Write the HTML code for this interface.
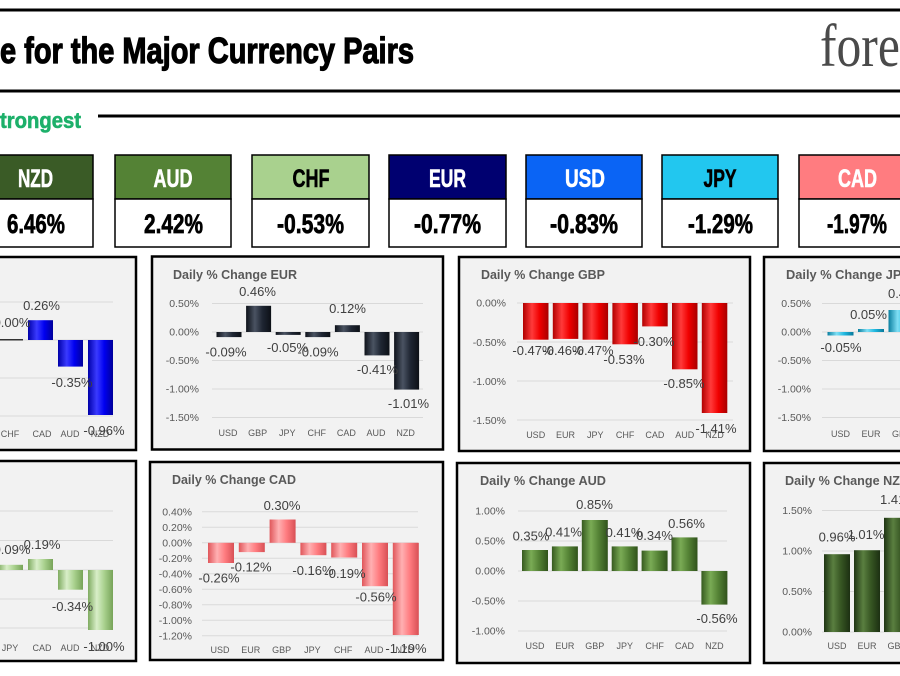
<!DOCTYPE html>
<html><head><meta charset="utf-8"><style>
html,body{margin:0;padding:0;background:#fff;width:900px;height:676px;overflow:hidden}
svg{display:block}
.t{font-family:"Liberation Sans",sans-serif;font-weight:bold;font-size:12.5px;fill:#595959}
.y{font-family:"Liberation Sans",sans-serif;font-size:10.5px;fill:#595959;text-anchor:end}
.c{font-family:"Liberation Sans",sans-serif;font-size:9px;fill:#595959;text-anchor:middle}
.d{font-family:"Liberation Sans",sans-serif;font-size:13px;fill:#404040;text-anchor:middle}
.g{stroke:#d9d9d9;stroke-width:1}
.p{fill:#f2f2f2;stroke:#000;stroke-width:2.5}
.hx{font-family:"Liberation Sans Narrow","Liberation Sans",sans-serif;font-weight:bold;font-size:25px;text-anchor:middle}
.px{font-family:"Liberation Sans Narrow","Liberation Sans",sans-serif;font-weight:bold;font-size:27px;text-anchor:middle;fill:#000;stroke:#000;stroke-width:0.7}
</style></head><body>
<svg width="900" height="676" viewBox="0 0 900 676" xmlns="http://www.w3.org/2000/svg">
<defs>
<linearGradient id="gBlue" x1="0" x2="1" y1="0" y2="0"><stop offset="0" stop-color="#0000a8"/><stop offset="0.35" stop-color="#3a3aff"/><stop offset="0.65" stop-color="#0000f0"/><stop offset="1" stop-color="#00009a"/></linearGradient>
<linearGradient id="gDark" x1="0" x2="1" y1="0" y2="0"><stop offset="0" stop-color="#0e121a"/><stop offset="0.35" stop-color="#4a5362"/><stop offset="0.65" stop-color="#1f2633"/><stop offset="1" stop-color="#0c1016"/></linearGradient>
<linearGradient id="gRed" x1="0" x2="1" y1="0" y2="0"><stop offset="0" stop-color="#b00000"/><stop offset="0.35" stop-color="#ff3a3a"/><stop offset="0.65" stop-color="#f00000"/><stop offset="1" stop-color="#a80000"/></linearGradient>
<linearGradient id="gCyan" x1="0" x2="1" y1="0" y2="0"><stop offset="0" stop-color="#0a7fa0"/><stop offset="0.35" stop-color="#7fdff5"/><stop offset="0.65" stop-color="#1fb8e0"/><stop offset="1" stop-color="#08789a"/></linearGradient>
<linearGradient id="gLg" x1="0" x2="1" y1="0" y2="0"><stop offset="0" stop-color="#7fab60"/><stop offset="0.35" stop-color="#d8eec8"/><stop offset="0.65" stop-color="#a9d18e"/><stop offset="1" stop-color="#77a358"/></linearGradient>
<linearGradient id="gPink" x1="0" x2="1" y1="0" y2="0"><stop offset="0" stop-color="#e0565a"/><stop offset="0.35" stop-color="#ffb0b2"/><stop offset="0.65" stop-color="#ff7c80"/><stop offset="1" stop-color="#d85055"/></linearGradient>
<linearGradient id="gAud" x1="0" x2="1" y1="0" y2="0"><stop offset="0" stop-color="#365a1f"/><stop offset="0.35" stop-color="#7aab55"/><stop offset="0.65" stop-color="#548235"/><stop offset="1" stop-color="#30521b"/></linearGradient>
<linearGradient id="gNzd" x1="0" x2="1" y1="0" y2="0"><stop offset="0" stop-color="#1f3514"/><stop offset="0.35" stop-color="#5a7f40"/><stop offset="0.65" stop-color="#375623"/><stop offset="1" stop-color="#1c3012"/></linearGradient>
</defs>

<!-- Header -->
<rect x="0" y="8.5" width="900" height="3" fill="#000"/>
<text x="0" y="63" font-family="'Liberation Sans Narrow','Liberation Sans',sans-serif" font-weight="bold" font-size="36" fill="#000" stroke="#000" stroke-width="1.2" textLength="414" lengthAdjust="spacingAndGlyphs">e for the Major Currency Pairs</text>
<text x="820" y="66" font-family="'Liberation Serif',serif" font-size="60" fill="#4a4a4a" textLength="179" lengthAdjust="spacingAndGlyphs">forexlive</text>
<rect x="0" y="89.5" width="900" height="3" fill="#000"/>
<text x="0" y="128" font-family="'Liberation Sans Narrow','Liberation Sans',sans-serif" font-weight="bold" font-size="22" fill="#1db06a" stroke="#1db06a" stroke-width="0.6" textLength="81" lengthAdjust="spacingAndGlyphs">trongest</text>
<rect x="98" y="114.5" width="802" height="3" fill="#000"/>

<!-- Currency boxes -->
<g stroke="#000" stroke-width="1.5">
<rect x="-23" y="155" width="116" height="44" fill="#3a5b26"/><rect x="-23" y="199" width="116" height="48" fill="#fff"/>
<rect x="115" y="155" width="116" height="44" fill="#548235"/><rect x="115" y="199" width="116" height="48" fill="#fff"/>
<rect x="252" y="155" width="117" height="44" fill="#a9d18e"/><rect x="252" y="199" width="117" height="48" fill="#fff"/>
<rect x="389" y="155" width="117" height="44" fill="#000070"/><rect x="389" y="199" width="117" height="48" fill="#fff"/>
<rect x="526" y="155" width="116" height="44" fill="#0a64f5"/><rect x="526" y="199" width="116" height="48" fill="#fff"/>
<rect x="662" y="155" width="116" height="44" fill="#22c7ef"/><rect x="662" y="199" width="116" height="48" fill="#fff"/>
<rect x="799" y="155" width="116" height="44" fill="#ff7c80"/><rect x="799" y="199" width="116" height="48" fill="#fff"/>
</g>
<text class="hx" x="35.5" y="187" fill="#fff" stroke="#fff" stroke-width="0.6" textLength="35" lengthAdjust="spacingAndGlyphs">NZD</text>
<text class="hx" x="173" y="187" fill="#fff" stroke="#fff" stroke-width="0.6" textLength="39" lengthAdjust="spacingAndGlyphs">AUD</text>
<text class="hx" x="311" y="187" fill="#000" stroke="#000" stroke-width="0.6" textLength="37" lengthAdjust="spacingAndGlyphs">CHF</text>
<text class="hx" x="447.5" y="187" fill="#fff" stroke="#fff" stroke-width="0.6" textLength="37" lengthAdjust="spacingAndGlyphs">EUR</text>
<text class="hx" x="585" y="187" fill="#fff" stroke="#fff" stroke-width="0.6" textLength="40" lengthAdjust="spacingAndGlyphs">USD</text>
<text class="hx" x="720" y="187" fill="#000" stroke="#000" stroke-width="0.6" textLength="33" lengthAdjust="spacingAndGlyphs">JPY</text>
<text class="hx" x="857.5" y="187" fill="#fff" stroke="#fff" stroke-width="0.6" textLength="39" lengthAdjust="spacingAndGlyphs">CAD</text>
<text class="px" x="36" y="233" textLength="58" lengthAdjust="spacingAndGlyphs">6.46%</text>
<text class="px" x="173.5" y="233" textLength="59" lengthAdjust="spacingAndGlyphs">2.42%</text>
<text class="px" x="310.5" y="233" textLength="67" lengthAdjust="spacingAndGlyphs">-0.53%</text>
<text class="px" x="447.5" y="233" textLength="67" lengthAdjust="spacingAndGlyphs">-0.77%</text>
<text class="px" x="584" y="233" textLength="68" lengthAdjust="spacingAndGlyphs">-0.83%</text>
<text class="px" x="720.5" y="233" textLength="65" lengthAdjust="spacingAndGlyphs">-1.29%</text>
<text class="px" x="857" y="233" textLength="60" lengthAdjust="spacingAndGlyphs">-1.97%</text>

<!-- Panel A: USD (cut) -->
<rect class="p" x="-20" y="257" width="156" height="193"/>
<g class="g"><line x1="0" y1="302" x2="113" y2="302"/><line x1="0" y1="340" x2="113" y2="340"/><line x1="0" y1="378" x2="113" y2="378"/><line x1="0" y1="416" x2="113" y2="416"/></g>
<rect x="-2" y="339" width="25" height="1.5" fill="#333"/>
<rect x="28" y="320.2" width="25" height="19.8" fill="url(#gBlue)"/>
<rect x="58" y="340" width="25" height="26.6" fill="url(#gBlue)"/>
<rect x="88" y="340" width="25" height="75" fill="url(#gBlue)"/>
<text class="c" x="10" y="437">CHF</text><text class="c" x="42" y="437">CAD</text><text class="c" x="70" y="437">AUD</text><text class="c" x="100" y="437">NZD</text>
<text class="d" x="12" y="327">0.00%</text><text class="d" x="41.5" y="310">0.26%</text><text class="d" x="72" y="387">-0.35%</text><text class="d" x="104" y="435">-0.96%</text>

<!-- Panel B: EUR -->
<rect class="p" x="152" y="256.5" width="291" height="193"/>
<text class="t" x="173" y="279" textLength="124" lengthAdjust="spacingAndGlyphs">Daily % Change EUR</text>
<g class="g"><line x1="212" y1="303.5" x2="423" y2="303.5"/><line x1="212" y1="332" x2="423" y2="332"/><line x1="212" y1="360.5" x2="423" y2="360.5"/><line x1="212" y1="389" x2="423" y2="389"/><line x1="212" y1="417.5" x2="423" y2="417.5"/></g>
<text class="y" x="199" y="307">0.50%</text><text class="y" x="199" y="335.5">0.00%</text><text class="y" x="199" y="364">-0.50%</text><text class="y" x="199" y="392.5">-1.00%</text><text class="y" x="199" y="421">-1.50%</text>
<rect x="216.5" y="332" width="25" height="5.1" fill="url(#gDark)"/>
<rect x="246.1" y="305.8" width="25" height="26.2" fill="url(#gDark)"/>
<rect x="275.7" y="332" width="25" height="2.9" fill="url(#gDark)"/>
<rect x="305.3" y="332" width="25" height="5.1" fill="url(#gDark)"/>
<rect x="334.9" y="325.2" width="25" height="6.8" fill="url(#gDark)"/>
<rect x="364.5" y="332" width="25" height="23.4" fill="url(#gDark)"/>
<rect x="394.1" y="332" width="25" height="57.6" fill="url(#gDark)"/>
<text class="c" x="228" y="436">USD</text><text class="c" x="257.6" y="436">GBP</text><text class="c" x="287.2" y="436">JPY</text><text class="c" x="316.8" y="436">CHF</text><text class="c" x="346.4" y="436">CAD</text><text class="c" x="376" y="436">AUD</text><text class="c" x="405.6" y="436">NZD</text>
<text class="d" x="226" y="356.7">-0.09%</text><text class="d" x="257.5" y="296">0.46%</text><text class="d" x="287.5" y="352">-0.05%</text><text class="d" x="318" y="356.7">-0.09%</text><text class="d" x="347.5" y="313">0.12%</text><text class="d" x="377.5" y="374">-0.41%</text><text class="d" x="408.5" y="408">-1.01%</text>

<!-- Panel C: GBP -->
<rect class="p" x="459" y="257" width="291" height="194"/>
<text class="t" x="481" y="279" textLength="124" lengthAdjust="spacingAndGlyphs">Daily % Change GBP</text>
<g class="g"><line x1="517" y1="303" x2="733" y2="303"/><line x1="517" y1="342" x2="733" y2="342"/><line x1="517" y1="381" x2="733" y2="381"/><line x1="517" y1="420" x2="733" y2="420"/></g>
<text class="y" x="506" y="306.7">0.00%</text><text class="y" x="506" y="346">-0.50%</text><text class="y" x="506" y="385">-1.00%</text><text class="y" x="506" y="424">-1.50%</text>
<rect x="523" y="303" width="25.5" height="36.7" fill="url(#gRed)"/>
<rect x="552.8" y="303" width="25.5" height="35.9" fill="url(#gRed)"/>
<rect x="582.6" y="303" width="25.5" height="36.7" fill="url(#gRed)"/>
<rect x="612.4" y="303" width="25.5" height="41.3" fill="url(#gRed)"/>
<rect x="642.2" y="303" width="25.5" height="23.4" fill="url(#gRed)"/>
<rect x="672" y="303" width="25.5" height="66.3" fill="url(#gRed)"/>
<rect x="701.8" y="303" width="25.5" height="110" fill="url(#gRed)"/>
<text class="c" x="535.7" y="438">USD</text><text class="c" x="565.5" y="438">EUR</text><text class="c" x="595.3" y="438">JPY</text><text class="c" x="625.1" y="438">CHF</text><text class="c" x="654.9" y="438">CAD</text><text class="c" x="684.7" y="438">AUD</text><text class="c" x="714.5" y="438">NZD</text>
<text class="d" x="533" y="355">-0.47%</text><text class="d" x="563" y="355">-0.46%</text><text class="d" x="593" y="355">-0.47%</text><text class="d" x="624" y="364">-0.53%</text><text class="d" x="654" y="346">-0.30%</text><text class="d" x="684" y="388">-0.85%</text><text class="d" x="716" y="433">-1.41%</text>

<!-- Panel D: JPY (cut) -->
<rect class="p" x="764" y="257" width="150" height="194"/>
<text class="t" x="786" y="279" textLength="124" lengthAdjust="spacingAndGlyphs">Daily % Change JPY</text>
<g class="g"><line x1="822" y1="303.5" x2="900" y2="303.5"/><line x1="822" y1="332" x2="900" y2="332"/><line x1="822" y1="360.5" x2="900" y2="360.5"/><line x1="822" y1="389" x2="900" y2="389"/><line x1="822" y1="417.5" x2="900" y2="417.5"/></g>
<text class="y" x="811" y="307">0.50%</text><text class="y" x="811" y="335.5">0.00%</text><text class="y" x="811" y="364">-0.50%</text><text class="y" x="811" y="392.5">-1.00%</text><text class="y" x="811" y="421">-1.50%</text>
<rect x="827.5" y="332" width="26" height="3.5" fill="url(#gCyan)"/>
<rect x="858" y="329" width="26" height="3" fill="url(#gCyan)"/>
<rect x="888.5" y="310" width="26" height="22" fill="url(#gCyan)"/>
<text class="c" x="840.5" y="437">USD</text><text class="c" x="871" y="437">EUR</text><text class="c" x="901.5" y="437">GBP</text>
<text class="d" x="841" y="352">-0.05%</text><text class="d" x="868.5" y="319">0.05%</text><text class="d" x="888" y="298" style="text-anchor:start">0.46%</text>

<!-- Panel E: CHF (cut) -->
<rect class="p" x="-20" y="461" width="156" height="200"/>
<g class="g"><line x1="0" y1="511" x2="113" y2="511"/><line x1="0" y1="540.5" x2="113" y2="540.5"/><line x1="0" y1="570" x2="113" y2="570"/><line x1="0" y1="599" x2="113" y2="599"/><line x1="0" y1="628" x2="113" y2="628"/></g>
<rect x="-2" y="564.8" width="25" height="5.2" fill="url(#gLg)"/>
<rect x="28" y="559" width="25" height="11" fill="url(#gLg)"/>
<rect x="58" y="570" width="25" height="19.7" fill="url(#gLg)"/>
<rect x="88" y="570" width="25" height="60" fill="url(#gLg)"/>
<text class="c" x="10" y="651">JPY</text><text class="c" x="42" y="651">CAD</text><text class="c" x="70" y="651">AUD</text><text class="c" x="100" y="651">NZD</text>
<text class="d" x="12" y="554">0.09%</text><text class="d" x="42" y="549">0.19%</text><text class="d" x="72.5" y="611">-0.34%</text><text class="d" x="104" y="651">-1.00%</text>

<!-- Panel F: CAD -->
<rect class="p" x="150" y="462" width="293" height="198"/>
<text class="t" x="172" y="484" textLength="124" lengthAdjust="spacingAndGlyphs">Daily % Change CAD</text>
<g class="g"><line x1="202" y1="511.8" x2="418" y2="511.8"/><line x1="202" y1="527.3" x2="418" y2="527.3"/><line x1="202" y1="542.8" x2="418" y2="542.8"/><line x1="202" y1="558.3" x2="418" y2="558.3"/><line x1="202" y1="573.8" x2="418" y2="573.8"/><line x1="202" y1="589.3" x2="418" y2="589.3"/><line x1="202" y1="604.8" x2="418" y2="604.8"/><line x1="202" y1="620.3" x2="418" y2="620.3"/><line x1="202" y1="635.8" x2="418" y2="635.8"/></g>
<text class="y" x="192" y="515.3">0.40%</text><text class="y" x="192" y="530.8">0.20%</text><text class="y" x="192" y="546.3">0.00%</text><text class="y" x="192" y="561.8">-0.20%</text><text class="y" x="192" y="577.3">-0.40%</text><text class="y" x="192" y="592.8">-0.60%</text><text class="y" x="192" y="608.3">-0.80%</text><text class="y" x="192" y="623.8">-1.00%</text><text class="y" x="192" y="639.3">-1.20%</text>
<rect x="208" y="542.8" width="26" height="20.2" fill="url(#gPink)"/>
<rect x="238.8" y="542.8" width="26" height="9.3" fill="url(#gPink)"/>
<rect x="269.6" y="519.5" width="26" height="23.3" fill="url(#gPink)"/>
<rect x="300.4" y="542.8" width="26" height="12.4" fill="url(#gPink)"/>
<rect x="331.2" y="542.8" width="26" height="14.7" fill="url(#gPink)"/>
<rect x="362" y="542.8" width="26" height="43.4" fill="url(#gPink)"/>
<rect x="392.8" y="542.8" width="26" height="92.2" fill="url(#gPink)"/>
<text class="c" x="220" y="653">USD</text><text class="c" x="250.8" y="653">EUR</text><text class="c" x="281.6" y="653">GBP</text><text class="c" x="312.4" y="653">JPY</text><text class="c" x="343.2" y="653">CHF</text><text class="c" x="374" y="653">AUD</text><text class="c" x="404.8" y="653">NZD</text>
<text class="d" x="219" y="582.3">-0.26%</text><text class="d" x="251" y="571.7">-0.12%</text><text class="d" x="282" y="510">0.30%</text><text class="d" x="313" y="575">-0.16%</text><text class="d" x="345" y="578">-0.19%</text><text class="d" x="376" y="601.7">-0.56%</text><text class="d" x="406" y="653">-1.19%</text>

<!-- Panel G: AUD -->
<rect class="p" x="457" y="463" width="293" height="200"/>
<text class="t" x="480" y="485" textLength="126" lengthAdjust="spacingAndGlyphs">Daily % Change AUD</text>
<g class="g"><line x1="518" y1="511" x2="727" y2="511"/><line x1="518" y1="541" x2="727" y2="541"/><line x1="518" y1="571" x2="727" y2="571"/><line x1="518" y1="601" x2="727" y2="601"/><line x1="518" y1="631" x2="727" y2="631"/></g>
<text class="y" x="505" y="514.5">1.00%</text><text class="y" x="505" y="544.5">0.50%</text><text class="y" x="505" y="574.5">0.00%</text><text class="y" x="505" y="604.5">-0.50%</text><text class="y" x="505" y="634.5">-1.00%</text>
<rect x="522" y="550" width="26" height="21" fill="url(#gAud)"/>
<rect x="551.9" y="546.4" width="26" height="24.6" fill="url(#gAud)"/>
<rect x="581.8" y="520" width="26" height="51" fill="url(#gAud)"/>
<rect x="611.7" y="546.4" width="26" height="24.6" fill="url(#gAud)"/>
<rect x="641.6" y="550.6" width="26" height="20.4" fill="url(#gAud)"/>
<rect x="671.5" y="537.4" width="26" height="33.6" fill="url(#gAud)"/>
<rect x="701.4" y="571" width="26" height="33.6" fill="url(#gAud)"/>
<text class="c" x="535" y="649">USD</text><text class="c" x="564.9" y="649">EUR</text><text class="c" x="594.8" y="649">GBP</text><text class="c" x="624.7" y="649">JPY</text><text class="c" x="654.6" y="649">CHF</text><text class="c" x="684.5" y="649">CAD</text><text class="c" x="714.4" y="649">NZD</text>
<text class="d" x="531" y="540.7">0.35%</text><text class="d" x="563.5" y="536.7">0.41%</text><text class="d" x="594.5" y="509">0.85%</text><text class="d" x="624" y="537">0.41%</text><text class="d" x="654.5" y="540">0.34%</text><text class="d" x="686.5" y="528">0.56%</text><text class="d" x="717" y="623">-0.56%</text>

<!-- Panel H: NZD (cut) -->
<rect class="p" x="764" y="463" width="150" height="200"/>
<text class="t" x="785" y="485" textLength="124" lengthAdjust="spacingAndGlyphs">Daily % Change NZD</text>
<g class="g"><line x1="822" y1="510.5" x2="900" y2="510.5"/><line x1="822" y1="551" x2="900" y2="551"/><line x1="822" y1="591.5" x2="900" y2="591.5"/><line x1="822" y1="632" x2="900" y2="632"/></g>
<text class="y" x="812" y="514">1.50%</text><text class="y" x="812" y="554.5">1.00%</text><text class="y" x="812" y="595">0.50%</text><text class="y" x="812" y="635.5">0.00%</text>
<rect x="824" y="554.2" width="26" height="77.8" fill="url(#gNzd)"/>
<rect x="854" y="550.2" width="26" height="81.8" fill="url(#gNzd)"/>
<rect x="884" y="517.8" width="26" height="114.2" fill="url(#gNzd)"/>
<text class="c" x="837" y="649">USD</text><text class="c" x="867" y="649">EUR</text><text class="c" x="897" y="649">GBP</text>
<text class="d" x="837" y="541.7">0.96%</text><text class="d" x="866" y="539">1.01%</text><text class="d" x="880" y="504" style="text-anchor:start">1.41%</text>
</svg>
</body></html>
